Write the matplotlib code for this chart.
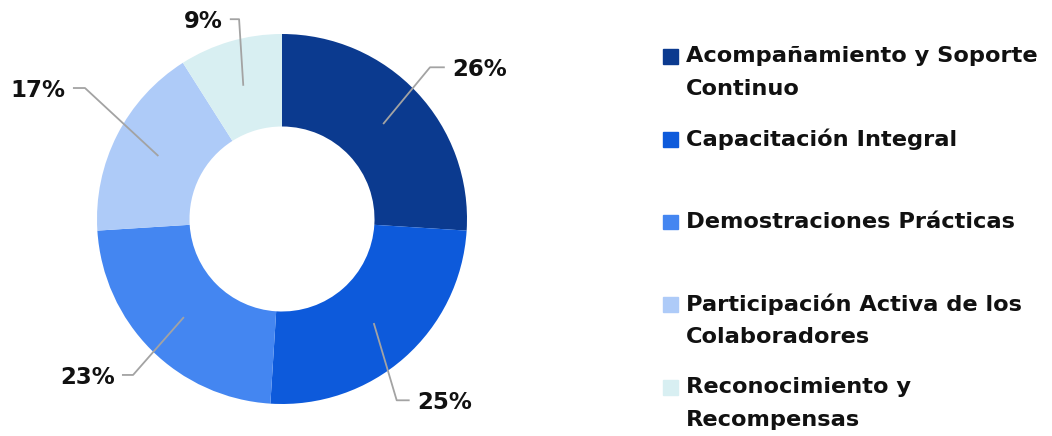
import numpy as np
import matplotlib.pyplot as plt
from matplotlib.patches import Rectangle

# datos
categorias = ['Acompañamiento y Soporte\nContinuo', 'Capacitación Integral',
              'Demostraciones Prácticas', 'Participación Activa de los\nColaboradores',
              'Reconocimiento y\nRecompensas']
porcentajes = [26, 25, 23, 17, 9]
colores = ['#0b3a8f', '#0d5adb', '#4486f1', '#aecbf8', '#d8eff2']

plt.rcParams['font.family'] = ['DejaVu Sans']
W, H = 1052, 436
fig = plt.figure(figsize=(W / 100, H / 100), dpi=100)

# donut
R_PX = 185
cx, cy = 282, H - 219
lim = 1.2
side = 2 * lim * R_PX
ax = fig.add_axes([(cx - side / 2) / W, (cy - side / 2) / H, side / W, side / H])
wedges, _ = ax.pie(porcentajes, colors=colores, startangle=90, counterclock=False,
                   radius=1.0, wedgeprops=dict(width=0.5, edgecolor='none'))
ax.set_xlim(-lim, lim)
ax.set_ylim(-lim, lim)
ax.set_aspect('equal')
ax.axis('off')

# etiquetas con líneas guía (codo y fin del tramo horizontal)
codos = [(0.80, 0.82), (0.62, -0.98), (-0.805, -0.843), (-1.065, 0.708), (-0.232, 1.08)]
tramo = [0.08, 0.07, -0.06, -0.065, -0.05]
for w, pct, (ex, ey), dx in zip(wedges, porcentajes, codos, tramo):
    ang = np.deg2rad((w.theta1 + w.theta2) / 2)
    sx, sy = 0.75 * np.cos(ang), 0.75 * np.sin(ang)
    ax.plot([sx, ex, ex + dx], [sy, ey, ey], color='#a3a3a3', lw=1.3,
            solid_capstyle='butt', clip_on=False)
    ha = 'left' if dx > 0 else 'right'
    tx = ex + dx + (0.04 if dx > 0 else -0.04)
    ax.text(tx, ey - 0.012, f'{pct}%', ha=ha, va='center', fontsize=16.5,
            fontweight='bold', color='#111111')

# leyenda manual
y0, paso, interlinea = 56, 82.75, 33
for i, (cat, col) in enumerate(zip(categorias, colores)):
    yc = y0 + i * paso
    fig.patches.append(Rectangle((663 / W, 1 - (yc + 8) / H), 15 / W, 15 / H,
                                 transform=fig.transFigure, color=col))
    for j, linea in enumerate(cat.split('\n')):
        fig.text(686 / W, 1 - (yc + j * interlinea) / H, linea, ha='left',
                 va='center', fontsize=16.2, fontweight='bold', color='#111111')

fig.savefig('out.png', dpi=100, facecolor='white')
